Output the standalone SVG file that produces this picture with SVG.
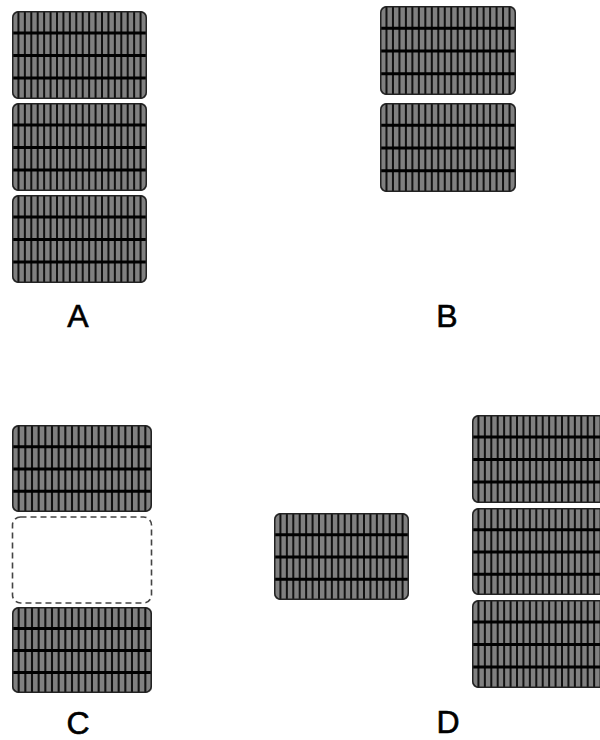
<svg xmlns="http://www.w3.org/2000/svg" xmlns:xlink="http://www.w3.org/1999/xlink" width="600" height="740" viewBox="0 0 600 740">
<style>
.lbl{font-family:"Liberation Sans",Arial,sans-serif;font-size:32px;fill:#000;stroke:#000;stroke-width:0.6;text-anchor:middle}
.vl{stroke:#111;stroke-width:2}
.hl{stroke:#000;stroke-width:3}
.dash{fill:#fff;stroke:#444;stroke-width:1.6;stroke-dasharray:6 4}
</style>
<defs>
<clipPath id="pc"><rect x="0" y="0" width="135" height="88" rx="6"/></clipPath>
<symbol id="panel" viewBox="0 0 135 88" preserveAspectRatio="none" overflow="visible">
<rect x="0" y="0" width="135" height="88" rx="6" fill="#808080"/>
<g clip-path="url(#pc)">
<path class="vl" d="M6.43 0V88M12.86 0V88M19.29 0V88M25.71 0V88M32.14 0V88M38.57 0V88M45 0V88M51.43 0V88M57.86 0V88M64.29 0V88M70.71 0V88M77.14 0V88M83.57 0V88M90 0V88M96.43 0V88M102.86 0V88M109.29 0V88M115.71 0V88M122.14 0V88M128.57 0V88"/>
<path class="hl" d="M0 22H135M0 44.5H135M0 67H135"/>
</g>
<rect x="0.75" y="0.75" width="133.5" height="86.5" rx="6" fill="none" stroke="#222" stroke-width="1.5"/>
</symbol>
</defs>
<g id="A">
<g id="A1"><use xlink:href="#panel" x="12" y="11" width="135" height="88"/></g>
<g id="A2"><use xlink:href="#panel" x="12" y="103" width="135" height="88"/></g>
<g id="A3"><use xlink:href="#panel" x="12" y="195" width="135" height="88"/></g>
<text class="lbl" x="78" y="327">A</text>
</g>
<g id="B">
<g id="B1"><use xlink:href="#panel" x="380" y="6" width="136" height="89"/></g>
<g id="B2"><use xlink:href="#panel" x="380" y="103" width="136" height="89"/></g>
<text class="lbl" x="447" y="327">B</text>
</g>
<g id="C">
<g id="C1"><use xlink:href="#panel" x="12" y="425" width="140" height="87"/></g>
<g id="C2"><rect class="dash" x="12.5" y="517" width="139" height="86" rx="8"/></g>
<g id="C3"><use xlink:href="#panel" x="12" y="607" width="140" height="86"/></g>
<text class="lbl" x="78" y="734">C</text>
</g>
<g id="D">
<g id="D0"><use xlink:href="#panel" x="274" y="513" width="135" height="87"/></g>
<g id="D1"><use xlink:href="#panel" x="472" y="415" width="135" height="88"/></g>
<g id="D2"><use xlink:href="#panel" x="472" y="508" width="135" height="87"/></g>
<g id="D3"><use xlink:href="#panel" x="472" y="600" width="135" height="88"/></g>
<text class="lbl" x="448" y="733">D</text>
</g>
<g id="connectors"/>
</svg>
